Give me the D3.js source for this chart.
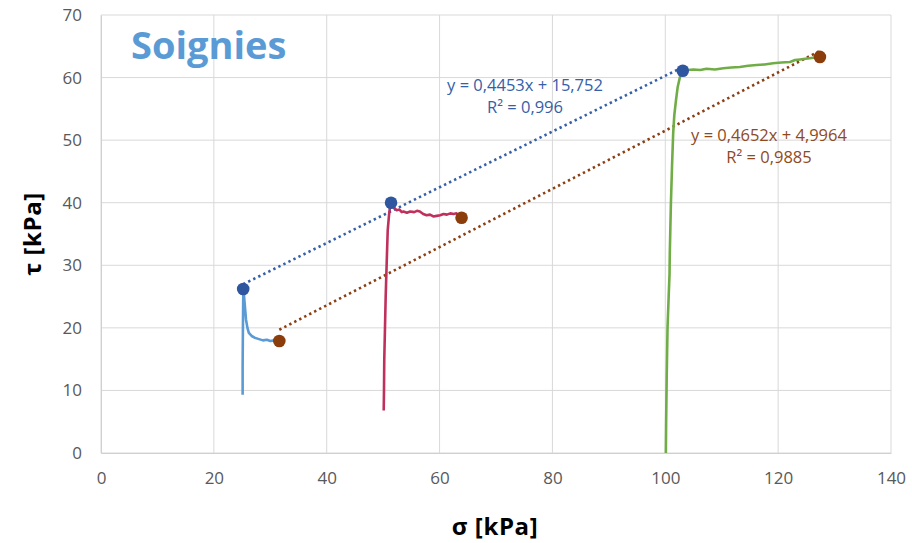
<!DOCTYPE html>
<html>
<head>
<meta charset="utf-8">
<script src="https://cdn.jsdelivr.net/npm/d3@7"></script>
<style>
	body { margin: 0; background: #fff; }
	svg { display: block; font-family: "Open Sans", sans-serif; }
</style>
</head>
<body>
<svg id="chart" width="912" height="543"></svg>
<script>
// ticks
var xTicks = [0, 20, 40, 60, 80, 100, 120, 140];
var yTicks = [0, 10, 20, 30, 40, 50, 60, 70];

// essais de cisaillement (sigma, tau)
var curve25 = [[25.1,9.3],[25.1,14.0],[25.15,20.0],[25.2,24.5],[25.25,26.2],[25.45,24.0],[25.7,21.3],[25.95,20.0],
	[26.2,19.2],[26.7,18.7],[27.3,18.4],[28.0,18.2],[28.7,18.0],[29.4,18.1],[30.0,17.9],[30.7,18.0],[31.3,17.9],[31.6,17.9]];
var curve50 = [[50.1,6.8],[50.15,10],[50.2,15],[50.33,20.1],[50.45,25],[50.63,30.4],[50.81,35.6],[51.04,38.0],[51.25,39.6],
	[51.4,40.0],[51.8,39.3],[52.4,38.8],[52.9,38.9],[53.3,38.5],[53.6,38.6],[54.2,38.4],[54.8,38.6],[55.5,38.5],[56.0,38.7],
	[56.5,38.6],[57.1,38.2],[57.7,38.0],[58.3,38.1],[58.9,37.8],[59.5,37.9],[60.1,38.0],[60.7,38.2],[61.3,38.1],[61.9,38.3],
	[62.5,38.2],[63.0,38.3],[63.5,37.9],[63.9,37.6]];
var curve100 = [[100.1,0],[100.15,5],[100.25,12],[100.4,20.1],[100.6,25],[100.75,28.5],[100.8,32],[100.9,36],[101.0,40.0],
	[101.2,46],[101.4,51.1],[101.6,54],[101.9,56.4],[102.2,58.5],[102.6,60.1],[103.1,61.05],[104.0,61.2],[105.0,61.3],
	[106.2,61.2],[107.3,61.4],[108.8,61.3],[110.3,61.5],[111.7,61.6],[113.2,61.7],[114.7,61.9],[116.2,62.0],[117.6,62.1],
	[119.1,62.3],[120.6,62.4],[122.1,62.5],[123.0,62.8],[123.9,62.9],[124.8,63.0],[125.6,63.1],[126.5,63.2],[127.4,63.3]];

// pics et residuels
var peakX = [25.2, 51.4, 103.1];
var peakY = [26.2, 40.0, 61.1];
var residX = [31.6, 63.9, 127.4];
var residY = [17.9, 37.6, 63.3];

// droites de Coulomb (Excel)
var peakFit = {a: 0.4453, b: 15.752, label: "y = 0,4453x + 15,752", r2: "R² = 0,996"};
var residFit = {a: 0.4652, b: 4.9964, label: "y = 0,4652x + 4,9964", r2: "R² = 0,9885"};

var svg = d3.select("#chart");
var plotL = 101, plotR = 891, plotT = 15, plotB = 453;

var x = d3.scaleLinear().domain([0, 140]).range([plotL, plotR]);
var y = d3.scaleLinear().domain([0, 70]).range([plotB, plotT]);

svg.append("rect").attr("width", 912).attr("height", 543).attr("fill", "#fff");

// grille
svg.append("g").selectAll("line").data(xTicks).enter().append("line")
	.attr("x1", function(d){ return x(d); }).attr("x2", function(d){ return x(d); })
	.attr("y1", plotT).attr("y2", plotB)
	.attr("stroke", "#d9d9d9").attr("stroke-width", 1);
svg.append("g").selectAll("line").data(yTicks).enter().append("line")
	.attr("x1", plotL).attr("x2", plotR)
	.attr("y1", function(d){ return y(d); }).attr("y2", function(d){ return y(d); })
	.attr("stroke", "#d9d9d9").attr("stroke-width", 1);

// axes
var xAxis = svg.append("g").attr("transform", "translate(0," + plotB + ")")
	.call(d3.axisBottom(x).tickValues(xTicks).tickSize(0).tickPadding(19));
var yAxis = svg.append("g").attr("transform", "translate(" + plotL + ",0)")
	.call(d3.axisLeft(y).tickValues(yTicks).tickSize(0).tickPadding(19));
[xAxis, yAxis].forEach(function(a){
	a.select(".domain").attr("stroke", "#d0d0d0");
	a.selectAll("text").attr("fill", "#595959").style("font-size", "17px").style("font-family", "Open Sans");
});

// droites (pointillés)
function fitLine(fit, xs, color){
	var x0 = d3.min(xs), x1 = d3.max(xs);
	svg.append("line")
		.attr("x1", x(x0)).attr("y1", y(fit.a * x0 + fit.b))
		.attr("x2", x(x1)).attr("y2", y(fit.a * x1 + fit.b))
		.attr("stroke", color).attr("stroke-width", 2.6)
		.attr("stroke-dasharray", "2.4 3.2");
}
fitLine(peakFit, peakX, "#3560a8");
fitLine(residFit, residX, "#8b3f12");

// courbes
var line = d3.line().x(function(d){ return x(d[0]); }).y(function(d){ return y(d[1]); });
[[curve25, "#5b9bd5"], [curve50, "#c0305c"], [curve100, "#70ad47"]].forEach(function(c){
	svg.append("path").attr("d", line(c[0]))
		.attr("fill", "none").attr("stroke", c[1]).attr("stroke-width", 2.6)
		.attr("stroke-linejoin", "round");
});

// marqueurs
svg.append("g").selectAll("circle").data(peakX).enter().append("circle")
	.attr("cx", function(d){ return x(d); }).attr("cy", function(d, i){ return y(peakY[i]); })
	.attr("r", 6.3).attr("fill", "#2f57a0");
svg.append("g").selectAll("circle").data(residX).enter().append("circle")
	.attr("cx", function(d){ return x(d); }).attr("cy", function(d, i){ return y(residY[i]); })
	.attr("r", 6.3).attr("fill", "#8b3d0c");

// équations
function eqLabel(fit, cx, by, color){
	var t = svg.append("text").attr("text-anchor", "middle").attr("fill", color).style("font-size", "16.5px");
	t.append("tspan").attr("x", cx).attr("y", by).text(fit.label);
	t.append("tspan").attr("x", cx).attr("y", by + 22).text(fit.r2);
}
eqLabel(peakFit, 525, 91, "#3560a8");
eqLabel(residFit, 769, 141, "#8f4a1c");

// titres
svg.append("text").attr("x", 131).attr("y", 59)
	.attr("fill", "#5b9bd5").style("font-weight", "bold").style("font-size", "38px")
	.text("Soignies");
svg.append("text").attr("x", x(70) - 1).attr("y", 535).attr("text-anchor", "middle")
	.attr("fill", "#000").style("font-weight", "bold").style("font-size", "24px").style("letter-spacing", "0.6px")
	.text("σ [kPa]");
svg.append("text").attr("transform", "translate(41,234) rotate(-90)").attr("text-anchor", "middle")
	.attr("fill", "#000").style("font-weight", "bold").style("font-size", "24px").style("letter-spacing", "0.6px")
	.text("τ [kPa]");
</script>
</body>
</html>
